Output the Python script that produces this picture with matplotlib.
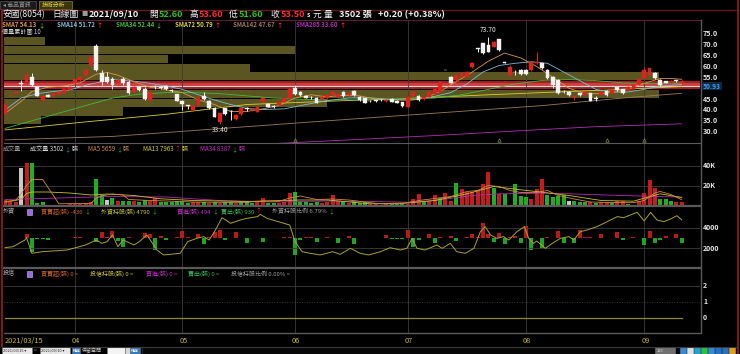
import matplotlib
matplotlib.use('Agg')
import matplotlib.pyplot as plt
import numpy as np
from matplotlib.lines import Line2D
from matplotlib.patches import Rectangle

plt.rcParams['font.family'] = ['Noto Sans CJK TC', 'DejaVu Sans']

# ---------------- data ----------------
month_labels = ['2021/03/15', '04', '05', '06', '07', '08', '09']
month_days = [0, 13, 33, 54, 75, 97, 119]

opens = [38.5, 46.8, 47.8, 52.2, 52.3, 55.3, 50.4, 44.6, 46.9, 46.4,
         47.4, 48.0, 49.2, 52.6, 53.8, 56.1, 60.7, 69.5, 56.9, 55.0,
         54.1, 52.6, 54.1, 52.7, 48.4, 50.4, 49.5, 44.6, 50.8, 50.5,
         51.0, 49.3, 47.2, 44.3, 42.3, 40.0, 42.3, 46.4, 44.3, 41.1,
         34.6, 40.7, 39.6, 35.7, 38.1, 40.7, 39.8, 39.2, 43.8, 42.7,
         41.6, 42.3, 43.8, 45.3, 49.9, 48.4, 46.6, 46.0, 45.7, 44.9,
         45.3, 46.9, 45.8, 48.4, 46.9, 48.7, 46.1, 45.3, 44.1, 44.4,
         44.5, 44.0, 45.0, 44.3, 43.5, 41.5, 46.5, 46.4, 44.9, 46.1,
         47.4, 48.4, 58.5, 55.0, 53.8, 55.3, 55.3, 60.0, 68.4, 70.7,
         69.9, 69.2, 72.5, 62.0, 56.1, 57.5, 58.6, 58.6, 58.4, 61.5,
         61.5, 58.4, 55.3, 53.8, 48.5, 48.4, 45.8, 47.7, 46.9, 47.7,
         45.4, 46.9, 48.7, 47.7, 50.4, 49.5, 49.2, 49.5, 52.0, 54.6,
         56.1, 57.2, 53.8, 53.2, 52.8, 53.6, 52.6]
closes = [42.3, 47.0, 48.3, 52.0, 56.1, 51.5, 46.6, 46.4, 46.1, 47.7,
          48.4, 49.5, 50.7, 54.1, 55.3, 58.4, 64.2, 58.4, 53.0, 53.0,
          51.5, 53.8, 52.3, 48.0, 50.7, 49.2, 45.0, 48.4, 50.6, 50.3,
          49.5, 48.9, 44.3, 42.8, 42.0, 41.8, 46.1, 44.9, 40.7, 36.9,
          38.4, 38.1, 39.4, 37.7, 40.7, 40.5, 40.6, 41.2, 45.3, 41.5,
          41.5, 43.8, 45.3, 49.5, 47.4, 46.9, 45.7, 45.8, 43.4, 46.1,
          46.9, 48.4, 47.4, 46.4, 48.0, 46.9, 44.6, 43.4, 44.0, 44.0,
          44.4, 44.7, 43.8, 43.4, 41.8, 46.1, 48.5, 44.6, 46.1, 48.4,
          49.5, 53.0, 58.3, 52.6, 56.1, 57.2, 57.6, 61.5, 68.2, 66.1,
          66.9, 71.5, 67.6, 61.8, 60.0, 57.3, 56.4, 56.4, 62.2, 62.2,
          59.2, 54.6, 51.5, 47.7, 48.3, 46.9, 46.4, 46.9, 48.4, 44.3,
          45.2, 48.4, 46.9, 49.2, 49.2, 47.7, 50.7, 51.4, 54.1, 58.4,
          59.2, 54.6, 51.5, 52.6, 53.3, 53.3, 53.5]
highs = [43.0, 47.3, 48.8, 54.0, 57.5, 57.0, 50.9, 46.8, 47.3, 48.0,
         48.7, 49.8, 51.0, 54.4, 55.7, 58.8, 64.6, 70.5, 58.4, 57.5,
         55.3, 54.2, 55.3, 53.8, 51.0, 50.8, 50.7, 48.8, 51.4, 51.0,
         51.3, 49.6, 47.5, 44.6, 42.5, 42.1, 46.4, 48.4, 44.6, 41.4,
         38.7, 41.0, 39.8, 38.0, 41.0, 41.5, 40.9, 41.5, 45.6, 43.0,
         42.2, 44.1, 45.6, 49.8, 51.5, 48.7, 46.9, 46.2, 46.0, 46.4,
         47.2, 48.7, 47.7, 48.7, 48.3, 49.0, 46.4, 45.6, 44.6, 44.7,
         45.0, 45.0, 45.3, 44.6, 43.8, 46.4, 48.9, 46.7, 46.4, 48.7,
         49.8, 53.3, 58.6, 55.6, 56.4, 57.5, 58.0, 62.0, 68.5, 71.0,
         73.7, 71.8, 72.8, 62.2, 60.8, 58.4, 58.9, 58.9, 62.5, 66.9,
         61.8, 58.7, 55.6, 54.1, 49.0, 48.7, 46.5, 48.0, 48.7, 48.0,
         46.5, 48.7, 49.0, 49.5, 50.7, 49.8, 51.0, 51.7, 54.4, 60.0,
         59.5, 57.5, 54.1, 53.5, 53.6, 53.9, 53.6]
lows = [38.0, 46.5, 47.5, 48.7, 51.8, 51.0, 46.2, 44.2, 45.8, 46.1,
        47.1, 47.8, 49.0, 52.3, 53.5, 55.8, 60.4, 58.0, 51.5, 52.5,
        49.7, 52.3, 51.5, 47.5, 48.1, 48.9, 44.5, 44.3, 49.5, 49.8,
        49.2, 48.4, 44.0, 40.0, 40.3, 39.7, 42.0, 44.6, 40.4, 36.6,
        33.4, 37.8, 35.4, 35.4, 37.8, 39.5, 39.5, 38.9, 43.5, 41.2,
        40.8, 42.0, 43.5, 45.0, 47.1, 46.6, 45.4, 44.9, 43.1, 44.6,
        45.0, 46.6, 45.5, 46.1, 46.6, 46.6, 44.3, 43.1, 43.5, 43.7,
        43.9, 43.7, 43.5, 43.1, 41.5, 41.2, 46.2, 44.3, 44.6, 45.8,
        47.1, 48.1, 58.2, 52.3, 53.5, 55.0, 55.0, 59.5, 66.9, 65.8,
        66.6, 68.9, 67.3, 61.6, 55.8, 56.1, 56.1, 56.1, 58.1, 61.3,
        58.9, 54.3, 50.0, 47.4, 47.6, 46.6, 44.6, 46.6, 46.6, 44.0,
        44.0, 46.6, 46.6, 47.4, 48.9, 47.4, 48.9, 49.2, 51.7, 54.3,
        55.8, 54.3, 51.2, 52.3, 52.5, 53.0, 51.6]

volume = [5700, 3300, 4000, 38000, 43000, 43000, 2300, 3300, 700, 1000,
          1000, 1000, 1300, 1300, 1700, 2300, 3300, 27000, 11000, 6000,
          8000, 5000, 5000, 4300, 5000, 3300, 5700, 5000, 7300, 3300,
          3300, 4000, 5000, 3300, 3000, 3300, 3300, 4000, 2300, 3300,
          2300, 3300, 3300, 2700, 3300, 3300, 2700, 3300, 7300, 3000,
          2700, 3000, 3300, 13000, 14000, 4000, 3300, 3000, 4000, 3000,
          3700, 11000, 5000, 4000, 3000, 4700, 3000, 3300, 1700, 1700,
          1000, 1700, 1700, 1300, 2300, 2000, 6700, 11700, 3300, 5000,
          11000, 7700, 12300, 5000, 23000, 16700, 13300, 13300, 15000, 22000,
          34000, 18000, 12000, 12000, 1000, 22000, 10000, 8300, 6700, 17000,
          27000, 11000, 8300, 10000, 11000, 4300, 4300, 3300, 3300, 3300,
          2300, 3300, 3300, 2300, 4300, 4300, 1700, 1000, 4300, 12300,
          26000, 17700, 6700, 6700, 5000, 3300, 3502]
volume_dir = ("rrrwrgggrr" "rrrrrrrggw" "grggrggrrg" "gggggrrgrg"
              "rggrgggrrg" "grrrgggggr" "rrrgrgggrr" "grgggrrrgr"
              "rgrrgrrrrr" "rgrgggggrr"
              "rggggwgggr" "grrgrrgrrr" "rrgggrr")

sma_days = {
    'SMA7': [0, 3, 5, 8, 11, 14, 17, 19, 21, 24, 27, 30, 33, 36, 39, 42, 45, 48, 51, 54, 57, 60, 63, 66,
             69, 72, 75, 78, 81, 84, 87, 90, 93, 96, 99, 102, 105, 108, 111, 114, 117, 120, 122, 124, 126],
    'SMA14': [0, 3, 6, 9, 12, 16, 20, 24, 27, 30, 33, 36, 39, 42, 45, 48, 52, 56, 60, 64, 68, 72, 76, 80,
              83, 86, 89, 92, 95, 98, 101, 104, 107, 110, 113, 116, 119, 122, 126],
    'SMA34': [0, 5, 10, 15, 20, 25, 30, 35, 40, 45, 50, 55, 60, 65, 70, 75, 80, 85, 90, 95, 100, 105,
              110, 115, 120, 126],
    'SMA72': [0, 15, 30, 45, 60, 75, 90, 105, 115, 126],
    'SMA142': [0, 20, 45, 60, 80, 100, 115, 126],
    'SMA285': [50, 65, 80, 95, 110, 126],
}
sma_vals = {
    'SMA7': [38.4, 44.0, 48.5, 50.5, 51.0, 52.5, 56.5, 57.3, 56.0, 53.0, 50.5, 49.3, 48.0, 44.6, 42.5,
             39.3, 39.3, 40.5, 42.0, 45.5, 47.0, 46.0, 46.8, 46.5, 45.0, 44.6, 44.5, 45.3, 48.5, 53.0,
             57.5, 62.5, 66.2, 64.0, 60.0, 55.0, 50.0, 47.5, 47.5, 48.5, 50.5, 53.0, 54.5, 54.5, 54.13],
    'SMA14': [40.0, 45.5, 47.5, 48.5, 49.2, 52.0, 54.0, 53.3, 52.3, 51.0, 49.5, 47.0, 44.6, 42.5, 40.7,
              40.2, 40.5, 42.5, 44.3, 45.5, 45.6, 44.8, 44.6, 46.3, 48.0, 52.0, 57.5, 60.5, 61.5, 62.2,
              61.5, 57.5, 53.5, 49.5, 48.2, 48.3, 49.5, 51.0, 51.72],
    'SMA34': [31.5, 35.0, 38.5, 42.0, 45.5, 47.3, 48.0, 48.0, 47.5, 46.5, 45.5, 45.0, 44.5, 45.0, 45.2,
              45.0, 45.5, 47.0, 49.5, 52.0, 53.6, 54.0, 53.5, 52.5, 52.2, 52.44],
    'SMA72': [30.8, 34.5, 38.0, 42.5, 44.0, 45.3, 47.0, 48.5, 49.5, 50.79],
    'SMA142': [26.2, 27.8, 32.3, 35.0, 38.5, 42.0, 45.5, 47.67],
    'SMA285': [24.5, 26.3, 28.2, 30.3, 32.3, 33.60],
}
sma_last = {'SMA7': ('54.13', '↓'), 'SMA14': ('51.72', '↑'), 'SMA34': ('52.44', '↓'),
            'SMA72': ('50.79', '↑'), 'SMA142': ('47.67', '↑'), 'SMA285': ('33.60', '↑')}

vma_days = {
    'MA5': [0, 2, 3, 4, 5, 7, 9, 10, 16, 17, 18, 20, 22, 23, 27, 30, 35, 40, 45, 48, 51, 53, 55, 58, 61,
            64, 67, 70, 74, 77, 80, 83, 86, 88, 90, 92, 94, 96, 99, 101, 103, 106, 109, 113, 117, 119,
            121, 122, 124, 126],
    'MA13': [0, 3, 4, 5, 8, 12, 16, 19, 24, 29, 35, 45, 55, 60, 68, 75, 80, 86, 91, 96, 100, 105, 111,
             117, 122, 126],
    'MA34': [0, 10, 20, 30, 40, 50, 60, 68, 75, 80, 87, 92, 100, 105, 112, 118, 126],
}
vma_vals = {
    'MA5': [3300, 5000, 12000, 20000, 26000, 26000, 10000, 1700, 2200, 7500, 9500, 11500, 10500, 6000,
            5000, 4500, 3500, 3200, 3200, 4500, 4200, 7500, 9500, 6000, 6500, 5500, 3500, 1600, 1800,
            5000, 7000, 9000, 14000, 15000, 20000, 19000, 15000, 13000, 13000, 15000, 10000, 6500, 3500,
            3000, 2800, 5000, 12500, 14000, 11000, 5659],
    'MA13': [4000, 6000, 12000, 13500, 13500, 12500, 10500, 11500, 10000, 6700, 5000, 4000, 5500, 5500,
             1700, 2500, 5000, 11700, 19000, 15700, 13300, 10000, 5000, 4300, 11700, 7963],
    'MA34': [6000, 7500, 9000, 8500, 5000, 3500, 4500, 4000, 3300, 5000, 10000, 11700, 12300, 11700,
             10500, 9500, 8387],
}

# foreign investors: holdings line (張) and net buy/sell bars (張)
fh_days = [0, 1.5, 3.7, 4, 5, 7, 11.5, 15, 17, 18, 19, 20, 21, 22, 24, 25, 26.4, 28.3, 29.5, 32.6, 34,
           35.7, 37, 38, 39, 40.4, 42, 43.8, 45, 47, 47.5, 48.8, 51.9, 53, 54, 55.3, 56.8, 58.7, 61,
           62.4, 64.3, 66.1, 67.7, 69.9, 71.7, 73.6, 74.8, 75.8, 76.7, 78.2, 80.4, 81.4, 82.9, 84.1,
           85.7, 87.3, 88.5, 89.4, 90.4, 91.6, 92.8, 93.8, 95.3, 96.7, 97.5, 98.4, 99, 100.6, 101.9,
           103.4, 105, 105.9, 107.1, 108.4, 110.2, 111.5, 114, 115.2, 117.7, 119, 120.2, 121.4, 122.7,
           123.9, 125.1, 126]
fh_vals = [2080, 2180, 2830, 3060, 1530, 1690, 1850, 2340, 2830, 2500, 2670, 3320, 2180, 2830, 2340,
           2670, 3320, 1850, 1370, 1530, 2670, 2990, 3160, 2830, 3640, 5010, 4460, 4780, 4940, 5110,
           5330, 4940, 4460, 4290, 2670, 1690, 1530, 1370, 1690, 1430, 2020, 1530, 1370, 1690, 2080,
           1850, 2020, 2990, 2020, 1850, 2340, 2020, 2500, 1690, 1530, 2020, 3640, 4130, 3320, 2990,
           3160, 2830, 3640, 4130, 2990, 2500, 2730, 2020, 2500, 2990, 3160, 2830, 3640, 3810, 4130,
           4460, 5110, 5010, 5530, 4690, 5530, 4780, 4620, 4880, 5200, 4790]
f_net = [60, 60, 80, 50, 400, -1400, -50, -80, -170, 80,
         80, 60, 80, 170, 170, 80, 80, -400, 670, 100,
         730, -230, -830, 170, 80, 60, 500, 400, -1170, 270,
         -170, 80, 100, 730, 170, 80, 400, -600, 100, 600,
         830, -170, 80, 600, 60, -500, 80, 60, -400, 80,
         60, 80, 170, 170, -1670, -170, 100, 170, -330, 80,
         170, 80, -500, 80, 270, -600, 80, 60, 80, 80,
         60, 330, -60, -60, -60, 830, -830, -170, 80, 400,
         -500, 170, 80, 270, -270, 80, 100, 400, 100, 1500,
         400, -400, 500, -600, 100, 270, -500, 1270, -1170, 80,
         -930, 170, 80, 730, -500, 60, -500, 830, 170, 170,
         80, 400, 80, 60, 600, -170, 80, 170, 80, -670,
         730, -500, -170, 270, 80, 400, -436]

trust_hold = [0] * 127

vp_edges = [33.4, 37.4, 41.5, 45.5, 49.5, 53.6, 57.6, 61.6, 65.7, 69.7, 73.7]
vp_volume = [1800, 5800, 15800, 32000, 34000, 32000, 12000, 8000, 14200, 2000]
avg_cost = 50.93
signal_days = [54, 92, 112, 119]

price_ticks = [75, 70, 65, 60, 55, 45, 40, 35, 30]
vol_ticks = [40000, 20000]
vol_tick_labels = ['40K', '20K']
f_ticks = [4000, 2000]
t_ticks = [2, 1, 0]

# ---------------- layout helpers ----------------
W, H = 740, 354
fig = plt.figure(figsize=(7.4, 3.54), dpi=100, facecolor='black')
renderer = fig.canvas.get_renderer()


def add_ax(l, t, r, b):
    ax = fig.add_axes([l / W, 1 - b / H, (r - l) / W, (b - t) / H])
    ax.set_facecolor('none')
    ax.set_xticks([]); ax.set_yticks([])
    for s in ax.spines.values():
        s.set_visible(False)
    return ax


def T(x, y, s, c, fs=5.0, **kw):
    return fig.text(x / W, 1 - y / H, s, color=c, fontsize=fs, va='center', **kw)


def seq(x, y, parts, fs=4.4):
    """Place text pieces one after another: parts = [(text, color, bold, gap_after)]."""
    for s, c, b, gap in parts:
        t = T(x, y, s, c, fs, fontweight='bold' if b else 'normal')
        bb = t.get_window_extent(renderer=renderer)
        x += bb.width + gap
    return x


def hline(y, x0, x1, c, lw=1.0):
    fig.add_artist(Line2D([x0 / W, x1 / W], [1 - y / H, 1 - y / H], color=c, lw=lw))


def vline(x, y0, y1, c, lw=1.0):
    fig.add_artist(Line2D([x / W, x / W], [1 - y0 / H, 1 - y1 / H], color=c, lw=lw))


n = len(closes)
idx = np.arange(n)
X0, X1 = -0.2, 129.4
O = np.array(opens); C = np.array(closes); Hh = np.array(highs); Ll = np.array(lows)

grid_c = '#3c3c3c'
edge_c = '#5a5a5a'
GRN = '#22c022'
RED = '#ff2a2a'

# ---------------- price panel ----------------
PT, PB = 20, 143
axv = add_ax(4, PT, 700, PB)
axv.set_xlim(0, max(vp_volume))
axv.set_ylim(24.77, 81.45)
axp = add_ax(4, PT, 700, PB)
axp.set_xlim(X0, X1)
axp.set_ylim(24.77, 81.45)

vmax = max(vp_volume)
for k in range(len(vp_volume)):
    lo, hi = vp_edges[k], vp_edges[k + 1]
    col = '#a81c1c' if vp_volume[k] == vmax else '#5b5522'
    axv.barh(lo, vp_volume[k], height=(hi - lo) * 0.94, align='edge', color=col, lw=0, zorder=1)
    if vp_volume[k] == vmax:
        axv.barh(lo + (hi - lo) * 0.25, vp_volume[k], height=(hi - lo) * 0.45, align='edge',
                 color='#c94040', lw=0, zorder=1)
axv.axhline(avg_cost, color='#d8d8d8', lw=0.8, zorder=2)

for d in month_days[1:]:
    axp.axvline(d, color=grid_c, lw=0.6, zorder=0)

sma_colors = {'SMA7': '#d8974a', 'SMA14': '#7fbcd8', 'SMA34': '#3dbb3d', 'SMA72': '#d9d12a',
              'SMA142': '#9c7a52', 'SMA285': '#b52bb5'}
for k in ['SMA285', 'SMA142', 'SMA72', 'SMA34', 'SMA14', 'SMA7']:
    axp.plot(sma_days[k], sma_vals[k], color=sma_colors[k], lw=0.6, zorder=2)

up = C >= O
red_c = '#e0221e'
wick_c = np.where(up, red_c, '#f2f2f2')
axp.vlines(idx, Ll, Hh, colors=list(wick_c), lw=0.7, zorder=3)
body_lo = np.minimum(O, C)
body_h = np.maximum(np.abs(C - O), 0.2)
axp.bar(idx, body_h, bottom=body_lo, width=0.7, color=list(np.where(up, red_c, '#f4f4f4')),
        edgecolor=list(wick_c), lw=0.3, zorder=4)

imax = int(np.argmax(Hh)); imin = int(np.argmin(Ll))
axp.text(imax, Hh[imax] + 1.2, f'{Hh[imax]:.2f}', color='#e8e8e8', fontsize=4.8, ha='center', va='bottom')
axp.text(imin, Ll[imin] - 0.8, f'{Ll[imin]:.2f}', color='#e8e8e8', fontsize=4.8, ha='center', va='top')
axp.plot(signal_days, [26.0] * len(signal_days), ls='none', marker='^', ms=2.5, mfc='none',
         mec='#8c8a4a', mew=0.5, zorder=5)

for p in price_ticks:
    y = 34 + (75 - p) * 2.17
    T(703, y, f'{p:.1f}', '#e6e6e6', 5.2, fontweight='bold')
yc = 34 + (75 - avg_cost) * 2.17
T(703, yc, f'{avg_cost:.2f}', '#3aa0ff', 4.8, fontweight='bold',
  bbox=dict(boxstyle='square,pad=0.1', fc='#10263a', ec='none'))

# ---------------- volume panel ----------------
VT, VB = 143, 205.5
axvol = add_ax(4, VT, 700, VB)
axvol.set_xlim(X0, X1)
axvol.set_ylim(0, 62500)
for d in month_days[1:]:
    axvol.axvline(d, color=grid_c, lw=0.6, zorder=0)
for v in vol_ticks:
    axvol.axhline(v, color=grid_c, lw=0.6, zorder=0)
vcol = {'r': '#c51b1b', 'g': '#1fae24', 'w': '#c8c8c8'}
axvol.bar(idx, volume, width=0.75, color=[vcol[c] for c in volume_dir], lw=0, zorder=2)
vma_colors = {'MA5': '#d38a3a', 'MA13': '#c7c42c', 'MA34': '#b22cb2'}
for k in ['MA34', 'MA13', 'MA5']:
    axvol.plot(vma_days[k], vma_vals[k], color=vma_colors[k], lw=0.6, zorder=3)
for v, lab in zip(vol_ticks, vol_tick_labels):
    T(703, VB - v / 1000.0, lab, '#e6e6e6', 5.0, fontweight='bold')

# ---------------- foreign panel ----------------
FT, FB = 206, 268
axf2 = add_ax(4, FT, 700, FB)
axf2.set_xlim(X0, X1)
axf2.set_ylim(-2970, 3230)
axf = add_ax(4, FT, 700, FB)
axf.set_xlim(X0, X1)
axf.set_ylim(96, 6147)
for d in month_days[1:]:
    axf2.axvline(d, color=grid_c, lw=0.6, zorder=0)
for v in f_ticks:
    axf.axhline(v, color=grid_c, lw=0.6, zorder=0)
fn = np.array(f_net)
axf2.bar(idx, fn, width=0.75, color=list(np.where(fn >= 0, '#b81a1a', '#1fa524')), lw=0, zorder=2)
axf.plot(fh_days, fh_vals, color='#a9a232', lw=0.7, zorder=3)
for v in f_ticks:
    T(703, 228 + (4000 - v) / 97.6, str(v), '#e6e6e6', 5.0, fontweight='bold')

# ---------------- investment trust panel ----------------
TT, TB = 268, 333
axt = add_ax(4, TT, 700, TB)
axt.set_xlim(X0, X1)
axt.set_ylim(-0.98, 3.14)
for d in month_days[1:]:
    axt.axvline(d, color=grid_c, lw=0.6, zorder=0)
axt.axhline(2, color=grid_c, lw=0.6)
axt.axhline(1, color='#4a4a4a', lw=0.6, ls=(0, (1, 2)))
axt.plot(idx, trust_hold, color='#8c8a2a', lw=0.9)
for v in t_ticks:
    T(703, 317.5 - v * 15.75, str(v), '#e6e6e6', 5.0, fontweight='bold')

for d, lab in zip(month_days, month_labels):
    x = 5.1 + 5.37 * d
    T(x - (0 if d == 0 else 3), 341, lab, '#c3bb3a', 5.3)

# ---------------- frames ----------------
hline(9.5, 2, 738, '#6a1a1a', 1.0)
hline(20, 4, 700, '#5a2030', 0.8)
hline(143, 4, 700, edge_c, 0.8)
hline(206, 4, 700, edge_c, 1.6)
hline(268, 4, 700, edge_c, 1.6)
hline(333, 4, 700, edge_c, 1.0)
vline(700.5, 20, 333, edge_c, 1.0)
vline(2.2, 10, 346, '#8a1c1c', 1.3)
vline(738, 0, 354, '#8a1c1c', 1.3)
hline(346.5, 2, 738, '#3a3a3a', 0.8)

# ---------------- header texts ----------------
fig.add_artist(Rectangle((0 / W, 1 - 9 / H), 36 / W, 8 / H, transform=fig.transFigure,
                         fc='#1a1a1a', ec='#555555', lw=0.5))
T(3, 5, '◂ 商品資訊', '#9a9a9a', 4.2)
fig.add_artist(Rectangle((39 / W, 1 - 9 / H), 33 / W, 8 / H, transform=fig.transFigure,
                         fc='#3a3510', ec='#8a8030', lw=0.5))
T(42, 5, '技術分析', '#e8d84a', 4.2)

ty = 14.3
T(2, ty, '安國(8054)', '#f0f0f0', 6.3)
T(52, ty, '日線圖', '#f0f0f0', 6.3)
T(81, ty, '■', '#9a9a9a', 4.5)
T(89, ty, '2021/09/10', '#f0f0f0', 6.6, fontweight='bold')
T(149, ty, '開', '#f0f0f0', 6.3)
T(159, ty, f'{opens[-1]:.2f}', '#27c22a', 6.6, fontweight='bold')
T(189, ty, '高', '#f0f0f0', 6.3)
T(199, ty, f'{highs[-1]:.2f}', '#ff2d2d', 6.6, fontweight='bold')
T(229, ty, '低', '#f0f0f0', 6.3)
T(239, ty, f'{lows[-1]:.2f}', '#27c22a', 6.6, fontweight='bold')
T(270, ty, '收', '#f0f0f0', 6.3)
T(281, ty, f'{closes[-1]:.2f}', '#ff2d2d', 6.6, fontweight='bold')
T(307, ty, 's', '#f0f0f0', 5.0, fontweight='bold')
T(313, ty, '元', '#f0f0f0', 6.3)
T(324, ty, '量', '#f0f0f0', 6.3)
T(339, ty, f'{volume[-1]} 張', '#f0f0f0', 6.6, fontweight='bold')
T(378, ty, '+0.20 (+0.38%)', '#f0f0f0', 6.6, fontweight='bold')

sy = 24.5
sma_x = {'SMA7': 2.5, 'SMA14': 57, 'SMA34': 116, 'SMA72': 175, 'SMA142': 233, 'SMA285': 296}
for k, x in sma_x.items():
    val, arr = sma_last[k]
    seq(x, sy, [(f'{k} {val}', sma_colors[k], True, 1.5),
                (arr, GRN if arr == '↓' else RED, True, 0)], fs=4.4)
T(2.5, 32, '價量累計圖 10', '#d8d8d8', 4.4)

vy = 149
T(2.5, vy, '成交量', '#9a9a9a', 4.4)
seq(30, vy, [(f'成交量 {volume[-1]}', '#d8d8d8', False, 1), ('↓', GRN, False, 0.5),
             ('張', '#d8d8d8', False, 0)])
seq(88, vy, [('MA5 5659', vma_colors['MA5'], False, 1), ('↓', GRN, False, 0.5),
             ('張', vma_colors['MA5'], False, 0)])
seq(143, vy, [('MA13 7963', '#d8d030', False, 1), ('↑', RED, False, 0.5),
              ('張', '#d8d030', False, 0)])
seq(200, vy, [('MA34 8387', '#c030c0', False, 1), ('↓', GRN, False, 0.5),
              ('張', '#c030c0', False, 0)])

fy = 211.5
T(2.5, fy, '外資', '#b0b0b0', 4.4)
fig.add_artist(Rectangle((26.5 / W, 1 - 214.5 / H), 5.5 / W, 6 / H, transform=fig.transFigure,
                         fc='#9a6ae0', ec='#d0b0ff', lw=0.4))
f_groups = [(41, '買賣超(張) -436', '#d0602a', '↓'), (101, '外資持股(張) 4790', '#c8c03a', '↓'),
            (177, '買進(張) 494', '#c030c0', '↓'), (221, '賣出(張) 930', '#3cb85a', '↑'),
            (272, '外資持股比例 6.79%', '#a0a0a0', '↓')]
for x, s, c, a in f_groups:
    seq(x, fy, [(s, c, False, 1.5), (a, GRN if a == '↓' else RED, False, 0)], fs=4.3)

ty2 = 273.5
T(2.5, ty2, '投信', '#b0b0b0', 4.4)
fig.add_artist(Rectangle((26.5 / W, 1 - 276.5 / H), 5.5 / W, 6 / H, transform=fig.transFigure,
                         fc='#9a6ae0', ec='#d0b0ff', lw=0.4))
t_groups = [(41, '買賣超(張) 0 =', '#d0602a'), (90, '投信持股(張) 0 =', '#c8c03a'),
            (146, '買進(張) 0 =', '#c030c0'), (188, '賣出(張) 0 =', '#3cb85a'),
            (231, '投信持股比例 0.00% =', '#a0a0a0')]
for x, s, c in t_groups:
    T(x, ty2, s, c, 4.3)

# bottom toolbar
by = 350.5


def box(x0, x1, fc, ec='#777777'):
    fig.add_artist(Rectangle((x0 / W, 1 - 353.5 / H), (x1 - x0) / W, 6.5 / H,
                             transform=fig.transFigure, fc=fc, ec=ec, lw=0.4))


box(2, 32, '#e8e8e8'); T(3, by, '2021/03/15 ▾', '#202020', 2.8)
T(34, by, '~', '#d0d0d0', 3.5)
box(40, 70, '#e8e8e8'); T(41, by, '2021/09/10 ▾', '#202020', 2.8)
box(72, 80, '#3a7ab8'); T(73, by, '確定', '#ffffff', 2.8)
T(82, by, '保留空間', '#d0d0d0', 3.6)
box(107, 125, '#f4f4f4'); box(125, 130, '#d8d8d8')
box(130, 140, '#3a7ab8'); T(131, by, '確定', '#ffffff', 2.8)
box(142, 738, '#080808', '#444444')
box(655, 675, '#707070'); T(657, by, '100', '#e0e0e0', 2.8)
icol = ['#3a8ad0', '#e0e0e0', '#2aa0d0', '#30c040', '#3a8ad0', '#2a70c0', '#2a70c0', '#e0a020']
for k, c in enumerate(icol):
    box(680 + k * 7, 686 + k * 7, c, c)

fig.savefig('out.png', dpi=100, facecolor='black')
